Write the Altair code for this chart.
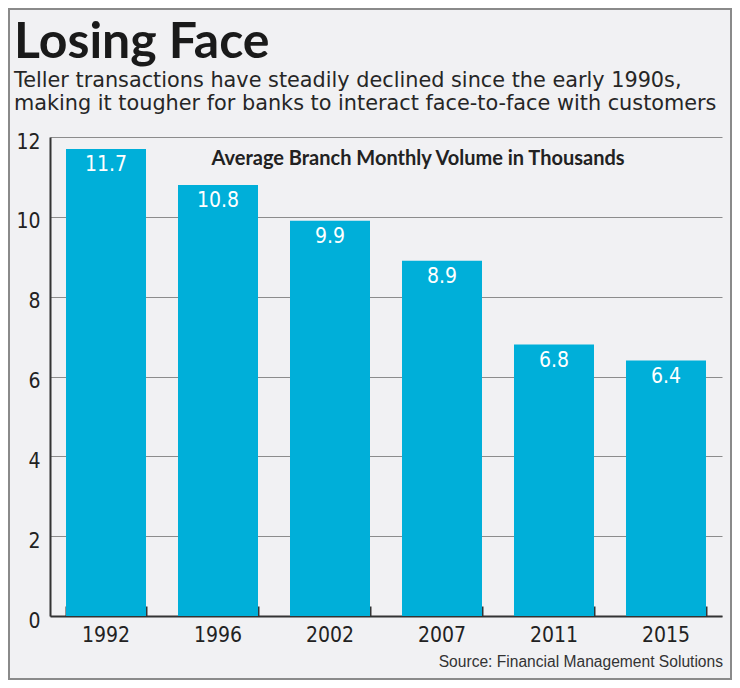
import altair as alt
import pandas as pd

years = ["1992", "1996", "2002", "2007", "2011", "2015"]
volumes = [11.7, 10.8, 9.9, 8.9, 6.8, 6.4]
y_ticks = [0, 2, 4, 6, 8, 10, 12]

title_text = "Losing Face"
subtitle_lines = [
    "Teller transactions have steadily declined since the early 1990s,",
    "making it tougher for banks to interact face-to-face with customers",
]
inner_label = "Average Branch Monthly Volume in Thousands"
source_text = "Source: Financial Management Solutions"

BAR = "#00afd9"
BG = "#f1f1f3"
DARK = "#222222"
NARROW = "DejaVu Sans Condensed, sans-serif"

W, H = 672, 479

df = pd.DataFrame({"year": years, "volume": volumes})

x_scale = alt.Scale(paddingInner=0.2857, paddingOuter=0.1429)
y_scale = alt.Scale(domain=[0, 12], nice=False)

bars = alt.Chart(df).mark_bar(color=BAR).encode(
    x=alt.X("year:N", sort=years, scale=x_scale, title=None,
            axis=alt.Axis(orient="bottom", labelAngle=0, labelFont=NARROW,
                          labelFontSize=21, labelColor=DARK, labelPadding=8,
                          ticks=False, domain=True, domainColor="#333333",
                          domainWidth=2, grid=False)),
    y=alt.Y("volume:Q", scale=y_scale, title=None,
            axis=alt.Axis(values=y_ticks, labelFont=NARROW, labelFontSize=21,
                          labelColor=DARK, labelPadding=10, labelOffset=5,
                          ticks=False, domain=True, domainColor="#333333",
                          domainWidth=2, grid=True, gridColor="#8c8c8c",
                          gridWidth=1)),
)

labels = alt.Chart(df).mark_text(
    color="white", font=NARROW, fontSize=21, baseline="alphabetic", dy=22
).encode(
    x=alt.X("year:N", sort=years, scale=x_scale, title=None,
            axis=alt.Axis(orient="top", offset=-H, labels=False, domain=False,
                          grid=False, ticks=True, tickBand="extent",
                          tickSize=10, tickWidth=2, tickColor="#333333")),
    y=alt.Y("volume:Q", scale=y_scale),
    text=alt.Text("volume:Q", format=".1f"),
)

title = alt.Chart(pd.DataFrame({"t": [title_text]})).mark_text(
    font="Lato, sans-serif", fontSize=50, fontWeight="bold", color="#1a1a1a",
    align="left", baseline="alphabetic"
).encode(x=alt.value(-36), y=alt.value(-79), text="t:N")

sub1 = alt.Chart(pd.DataFrame({"t": [subtitle_lines[0]]})).mark_text(
    font="DejaVu Sans", fontSize=20.8, color="#262626", align="left",
    baseline="alphabetic"
).encode(x=alt.value(-36), y=alt.value(-50), text="t:N")
sub2 = alt.Chart(pd.DataFrame({"t": [subtitle_lines[1]]})).mark_text(
    font="DejaVu Sans", fontSize=20.8, color="#262626", align="left",
    baseline="alphabetic"
).encode(x=alt.value(-36), y=alt.value(-27), text="t:N")

inner = alt.Chart(pd.DataFrame({"t": [inner_label]})).mark_text(
    font="Lato, sans-serif", fontSize=20, fontWeight="bold", color=DARK,
    align="center", baseline="alphabetic"
).encode(x=alt.value(368), y=alt.value(28), text="t:N")

source = alt.Chart(pd.DataFrame({"t": [source_text]})).mark_text(
    font="Liberation Sans, Arial, sans-serif", fontSize=15.6, color="#333333",
    align="right", baseline="alphabetic"
).encode(x=alt.value(673), y=alt.value(530), text="t:N")

frame = alt.Chart(pd.DataFrame({"t": [0]})).mark_rect(
    fill=BG, fillOpacity=0, stroke="#8a8a8a", strokeWidth=2
).encode(x=alt.value(-41), x2=alt.value(681), y=alt.value(-128), y2=alt.value(542))

chart = alt.layer(
    bars, labels, title, sub1, sub2, inner, source, frame
).resolve_axis(x="independent").properties(
    width=W, height=H,
    autosize=alt.AutoSizeParams(type="none"),
    padding={"left": 42, "top": 129, "right": 10, "bottom": 64},
    background=BG,
).configure_view(stroke=None)

chart.save("out.html", embed_options={"renderer": "svg", "actions": False})
